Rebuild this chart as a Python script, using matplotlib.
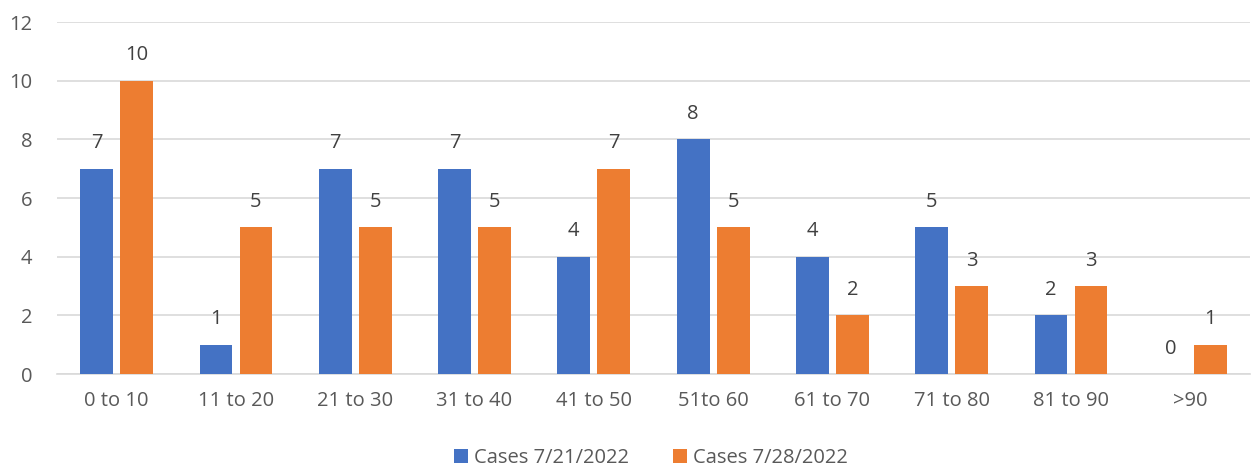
import numpy as np
import matplotlib
matplotlib.use("Agg")
import matplotlib.pyplot as plt
from matplotlib import rcParams

rcParams.update({
    "font.family": ["Open Sans", "DejaVu Sans"],
    "font.size": 14,
})

categories = ['0 to 10', '11 to 20', '21 to 30', '31 to 40', '41 to 50',
              '51to 60', '61 to 70', '71 to 80', '81 to 90', '>90']
cases_0721 = [7, 1, 7, 7, 4, 8, 4, 5, 2, 0]
cases_0728 = [10, 5, 5, 5, 7, 5, 2, 3, 3, 1]
labels = ['Cases 7/21/2022', 'Cases 7/28/2022']

text_color = '#595959'
blue = '#4472C4'
orange = '#ED7D31'


def draw_cases():
    fig = plt.figure(figsize=(12.6, 4.71), dpi=100)
    ax = fig.add_axes([57 / 1260, 97 / 471, 1193 / 1260, 352 / 471])

    x = np.arange(len(categories))
    w = 0.275
    off = 0.168
    b1 = ax.bar(x - off, cases_0721, w, color=blue, lw=0,
                label=labels[0], zorder=3)
    b2 = ax.bar(x + off, cases_0728, w, color=orange, lw=0,
                label=labels[1], zorder=3)
    ax.bar_label(b1, padding=11, color='#404040', fontsize=14.5)
    ax.bar_label(b2, padding=11, color='#404040', fontsize=14.5)

    ax.set_xlim(-0.5, len(categories) - 0.5)
    ax.set_ylim(0, 12)
    ax.set_yticks(range(0, 13, 2))
    ax.set_xticks(x)
    ax.set_xticklabels(categories)
    ax.tick_params(axis='both', length=0, colors=text_color, labelsize=14.5)
    ax.tick_params(axis='x', pad=12)
    ax.tick_params(axis='y', pad=18)

    ax.grid(axis='y', color='#D9D9D9', lw=1.2, zorder=0)
    for s in ['top', 'right', 'left']:
        ax.spines[s].set_visible(False)
    ax.spines['bottom'].set_color('#D9D9D9')
    ax.spines['bottom'].set_linewidth(1.2)

    fig.legend(loc='center', bbox_to_anchor=(651 / 1260, 1 - 458 / 471), ncol=2,
               frameon=False, fontsize=14.5, labelcolor=text_color,
               handlelength=0.7, handleheight=0.7, handletextpad=0.3,
               columnspacing=2.2)

    fig.savefig("out.png", dpi=100)


if __name__ == '__main__':
    draw_cases()
